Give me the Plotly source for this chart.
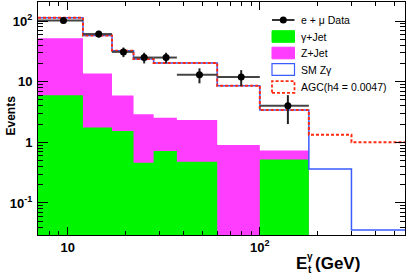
import plotly.graph_objects as go

# ---------------- data ----------------
bin_edges = [7, 12, 17, 22, 28, 37, 60, 100, 180, 300, 570]
gamma_jet = [6.0, 1.75, 1.54, 0.46, 0.72, 0.48, 0.0, 0.52, 0.0, 0.0]
z_jet = [46.0, 11.9, 4.4, 2.45, 1.83, 1.85, 0.90, 0.21, 0.0, 0.0]
sm_zgamma = [61.0, 44.3, 26.5, 20.8, 17.75, 17.97, 7.7, 2.67, 0.363, 0.036]
agc_zgamma = [61.0, 44.3, 26.5, 20.8, 17.75, 17.97, 7.7, 2.67, 1.33, 1.0]

data_x = [9.5, 14.5, 19.5, 25, 32.5, 48.5, 80, 140]
data_lo = [7, 12, 17, 22, 28, 37, 60, 100]
data_hi = [12, 17, 22, 28, 37, 60, 100, 180]
data_y = [102, 61, 31, 25, 25, 13, 12, 4.0]
data_err = [10.1, 7.8, 5.6, 5.0, 5.0, 3.6, 3.5, 2.0]

x_ticks = [10, 100]
x_ticktext = ["10", "10<sup>2</sup>"]
y_ticks = [0.1, 1, 10, 100]
y_ticktext = ["10<sup>-1</sup>", "1", "10", "10<sup>2</sup>"]

YBOT = 1e-3
FONT = "Liberation Sans"

# -------------- helpers ---------------
def step_xy(vals):
    xs, ys = [], []
    for i, v in enumerate(vals):
        y = v if v > 0 else YBOT
        xs += [bin_edges[i], bin_edges[i + 1]]
        ys += [y, y]
    return xs, ys


def polygon(vals):
    xs, ys = step_xy(vals)
    return xs + [bin_edges[-1], bin_edges[0], bin_edges[0]], ys + [YBOT, YBOT, ys[0]]


stack_gj = list(gamma_jet)
stack_zj = [a + b for a, b in zip(gamma_jet, z_jet)]
stack_sm = [a + b for a, b in zip(stack_zj, sm_zgamma)]
stack_agc = [a + b for a, b in zip(stack_zj, agc_zgamma)]

fig = go.Figure()

# SM Zgamma (white fill, blue outline)
px_, py_ = polygon(stack_sm)
fig.add_trace(go.Scatter(x=px_, y=py_, mode="lines", fill="toself",
                         fillcolor="white", line=dict(width=0), hoverinfo="skip"))
# Z+Jet
px_, py_ = polygon(stack_zj)
fig.add_trace(go.Scatter(x=px_, y=py_, mode="lines", fill="toself",
                         fillcolor="#ff3dff", line=dict(width=0), hoverinfo="skip"))
# gamma+Jet
px_, py_ = polygon(stack_gj)
fig.add_trace(go.Scatter(x=px_, y=py_, mode="lines", fill="toself",
                         fillcolor="#00f500", line=dict(width=0), hoverinfo="skip"))
# blue outline of SM stack
sx, sy = step_xy(stack_sm)
fig.add_trace(go.Scatter(x=sx, y=sy, mode="lines",
                         line=dict(color="#3a5cff", width=1.5), hoverinfo="skip"))
# red dashed AGC outline
ax_, ay_ = step_xy(stack_agc)
fig.add_trace(go.Scatter(x=ax_, y=ay_, mode="lines",
                         line=dict(color="#ff2a10", width=2, dash="3px,2px"), hoverinfo="skip"))

# data
fig.add_trace(go.Scatter(
    x=data_x, y=data_y, mode="markers",
    marker=dict(color="black", size=7),
    error_x=dict(type="data", symmetric=False,
                 array=[h - c for h, c in zip(data_hi, data_x)],
                 arrayminus=[c - l for c, l in zip(data_x, data_lo)],
                 color="#444444", thickness=2, width=0),
    error_y=dict(type="data", array=data_err, color="#222222", thickness=2, width=0),
    hoverinfo="skip"))

# -------------- layout ----------------
L, R, T, B = 38, 405, 2, 235
W, H = 407, 279


def pxx(p):
    return (p - L) / (R - L)


def pxy(p):
    return (B - p) / (B - T)


axis_common = dict(showline=True, linecolor="black", linewidth=1, mirror="allticks",
                   ticks="inside", tickcolor="black", showgrid=False, zeroline=False,
                   automargin=False)

x_minor = [7, 8, 9] + [v * 10 for v in range(2, 10)] + [v * 100 for v in range(2, 6)]
y_minor = ([v * 0.01 for v in range(3, 10)] + [v * 0.1 for v in range(2, 10)]
           + list(range(2, 10)) + [v * 10 for v in range(2, 10)] + [200])

fig.update_xaxes(type="log", range=[0.8451, 2.7559], tickmode="array",
                 tickvals=x_ticks, ticktext=x_ticktext, ticklen=8, tickwidth=1,
                 tickfont=dict(family=FONT, size=13, color="black", weight="bold"),
                 minor=dict(tickvals=x_minor, ticks="inside", ticklen=4, tickcolor="black"),
                 **axis_common)
fig.update_yaxes(type="log", range=[-1.528, 2.314], tickmode="array",
                 tickvals=y_ticks, ticktext=y_ticktext, ticklen=10, tickwidth=1,
                 ticklabelstandoff=2,
                 tickfont=dict(family=FONT, size=13, color="black", weight="bold"),
                 minor=dict(tickvals=y_minor, ticks="inside", ticklen=5, tickcolor="black"),
                 **axis_common)

shapes = []
annotations = []

# legend
rows = [20, 36.5, 53, 69.5, 87]
labels = ["e + \u03bc Data", "\u03b3+Jet", "Z+Jet", "SM Z\u03b3", "AGC(h4 = 0.0047)"]
bx0, bx1 = 272, 294.5
shapes.append(dict(type="line", xref="paper", yref="paper",
                   x0=pxx(bx0), x1=pxx(bx1), y0=pxy(rows[0]), y1=pxy(rows[0]),
                   line=dict(color="#333333", width=2)))
shapes.append(dict(type="circle", xref="paper", yref="paper",
                   x0=pxx(283.3 - 3.5), x1=pxx(283.3 + 3.5),
                   y0=pxy(rows[0] + 3.5), y1=pxy(rows[0] - 3.5),
                   fillcolor="black", line=dict(color="black", width=0)))
box_styles = [
    dict(fillcolor="#00f500", line=dict(color="#00f500", width=1)),
    dict(fillcolor="#ff3dff", line=dict(color="#ff3dff", width=1)),
    dict(fillcolor="white", line=dict(color="#3a5cff", width=1.2)),
    dict(fillcolor="white", line=dict(color="#ff2a10", width=1.8, dash="3px,2px")),
]
for r, st in zip(rows[1:], box_styles):
    shapes.append(dict(type="rect", xref="paper", yref="paper",
                       x0=pxx(bx0), x1=pxx(bx1), y0=pxy(r + 5.8), y1=pxy(r - 5.8), **st))
for r, lab in zip(rows, labels):
    annotations.append(dict(xref="paper", yref="paper", x=pxx(299), y=pxy(r),
                            xanchor="left", yanchor="middle", text=lab, showarrow=False,
                            font=dict(family=FONT, size=10.5, color="black")))

# y-axis title
annotations.append(dict(xref="paper", yref="paper", x=pxx(10.5), y=pxy(116),
                        xanchor="center", yanchor="middle", text="Events", textangle=-90,
                        showarrow=False,
                        font=dict(family=FONT, size=12, color="black", weight="bold")))
# x-axis title  E_t^gamma (GeV)
tx = 294
annotations.append(dict(xref="paper", yref="paper", x=pxx(tx), y=pxy(263),
                        xanchor="left", yanchor="middle", text="E", showarrow=False,
                        font=dict(family=FONT, size=17, color="black", weight="bold")))
annotations.append(dict(xref="paper", yref="paper", x=pxx(tx + 11), y=pxy(256),
                        xanchor="left", yanchor="middle", text="\u03b3", showarrow=False,
                        font=dict(family=FONT, size=10, color="black", weight="bold")))
annotations.append(dict(xref="paper", yref="paper", x=pxx(tx + 11.5), y=pxy(269),
                        xanchor="left", yanchor="middle", text="t", showarrow=False,
                        font=dict(family=FONT, size=10, color="black", weight="bold")))
annotations.append(dict(xref="paper", yref="paper", x=pxx(tx + 19), y=pxy(263),
                        xanchor="left", yanchor="middle", text="(GeV)", showarrow=False,
                        font=dict(family=FONT, size=17, color="black", weight="bold")))

fig.update_layout(width=W, height=H, margin=dict(l=L, r=W - R, t=T, b=H - B),
                  paper_bgcolor="white", plot_bgcolor="white", showlegend=False,
                  shapes=shapes, annotations=annotations,
                  font=dict(family=FONT, color="black"))

fig.write_html("out.html", config={"displayModeBar": False},
               post_script="document.body.style.margin='0px';document.body.style.padding='0px';")
